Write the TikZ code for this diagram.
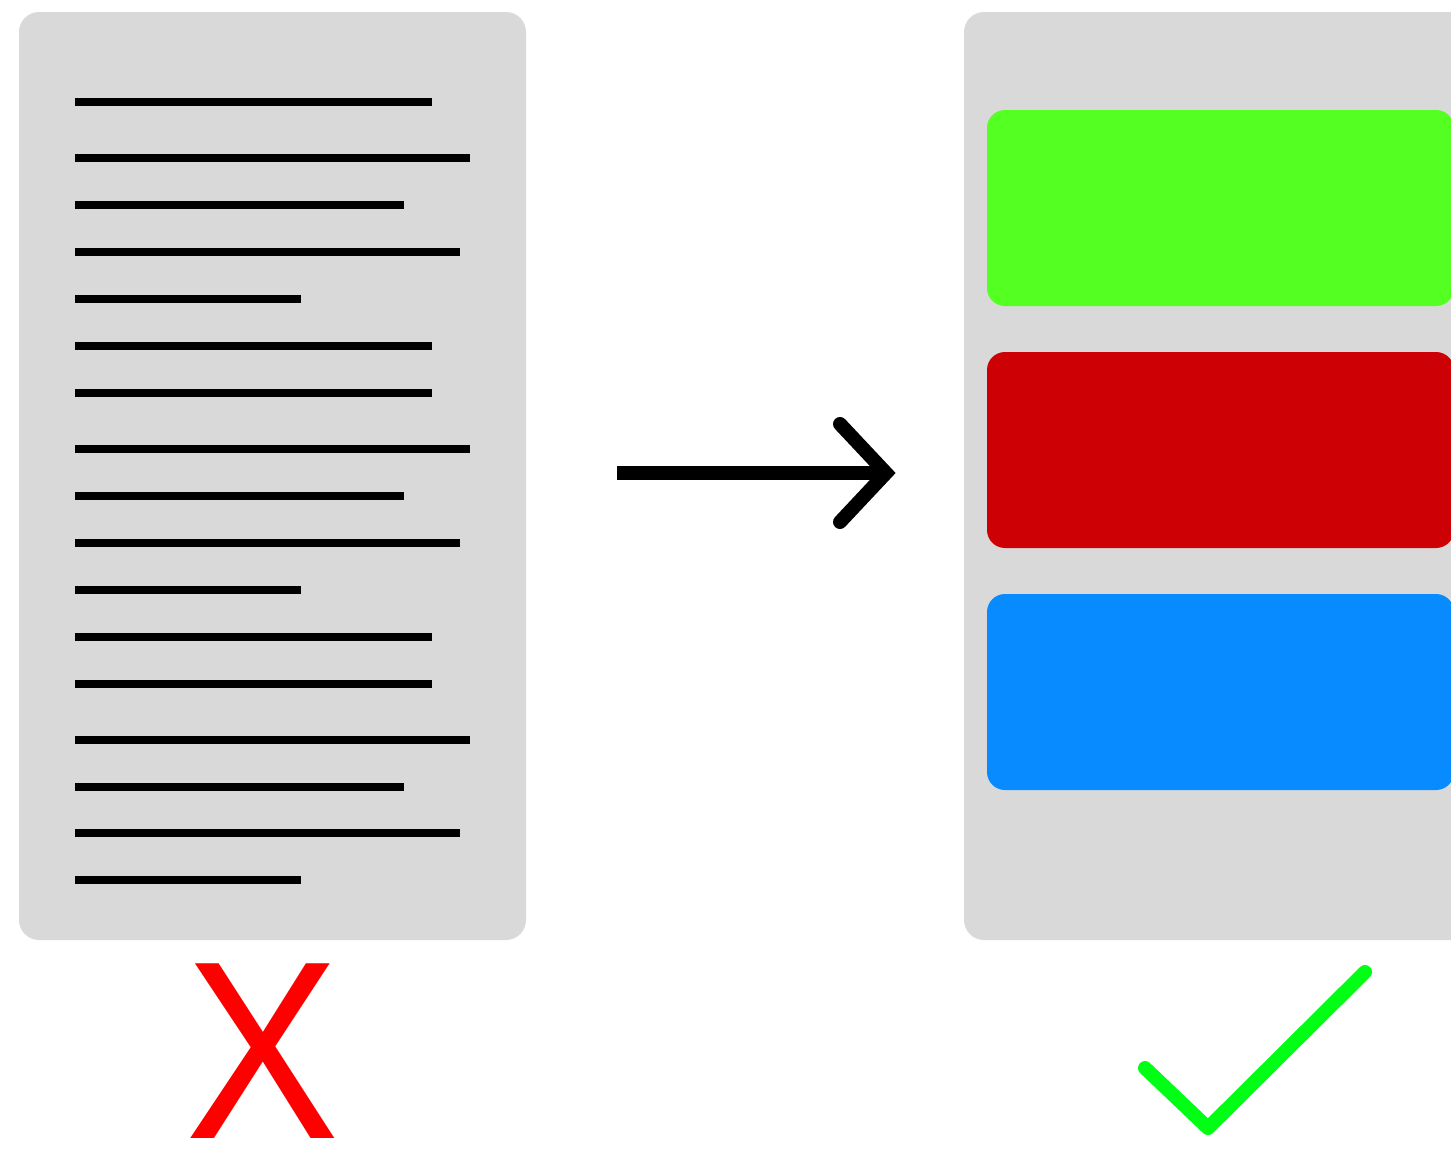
\documentclass[tikz,border=0pt]{standalone}
\usepackage{fontspec}
\newfontfamily\xfont[FakeStretch=0.91]{Liberation Sans}
\definecolor{panelgray}{RGB}{217,217,217}
\definecolor{boxgreen}{RGB}{84,255,34}
\definecolor{boxred}{RGB}{205,0,5}
\definecolor{boxblue}{RGB}{8,139,255}
\definecolor{checkgreen}{RGB}{0,255,20}
\definecolor{xred}{RGB}{255,0,0}
\begin{document}
\begin{tikzpicture}[x=0.5pt,y=-0.5pt,
  panel/.style={fill=panelgray,draw=none,rounded corners=10pt,inner sep=0pt},
  colbox/.style={draw=none,rounded corners=9pt,inner sep=0pt,minimum width=233.5pt,minimum height=98pt},
  textline/.style={line width=4pt,black},
  bigarrow/.style={line width=7pt,black},
  headline/.style={line width=7pt,black,line cap=round,line join=miter},
  tick/.style={line width=7pt,checkgreen,line cap=round,line join=round}]
\useasboundingbox (0,0) rectangle (1451,1151);
\clip (0,0) rectangle (1451,1151);
% panels
\node[panel,minimum width=253.5pt,minimum height=464pt] (left) at (272.5,476) {};
\node[panel,minimum width=260pt,minimum height=464pt] (right) at (1224,476) {};
% text lines
\foreach \y/\xe [count=\i] in {102/432,158/470,205/404,252/460,299/301,346/432,393/432,449/470,496/404,543/460,590/301,637/432,684/432,740/470,787/404,833/460,880/301}{
  \coordinate (ls\i) at (75,\y);
  \coordinate (le\i) at (\xe,\y);
  \draw[textline] (ls\i) -- (le\i);
}
% coloured boxes
\node[colbox,fill=boxgreen] (green) at (1220.5,208) {};
\node[colbox,fill=boxred] (red) at (1220.5,450) {};
\node[colbox,fill=boxblue] (blue) at (1220.5,692) {};
% arrow
\coordinate (as) at (617,473);
\coordinate (ae) at (886,473);
\coordinate (ht) at (840,424);
\coordinate (hb) at (840,522);
\draw[bigarrow] (as) -- (ae);
\draw[headline] (ht) -- (ae) -- (hb);
% cross
\node[font=\xfont\fontsize{127}{127}\selectfont,text=xred,inner sep=0pt,anchor=base] (cross) at (263,1138) {X};
% check mark
\coordinate (c1) at (1145,1068);
\coordinate (c2) at (1208,1128);
\coordinate (c3) at (1365,972);
\draw[tick] (c1) -- (c2) -- (c3);
\end{tikzpicture}
\end{document}
